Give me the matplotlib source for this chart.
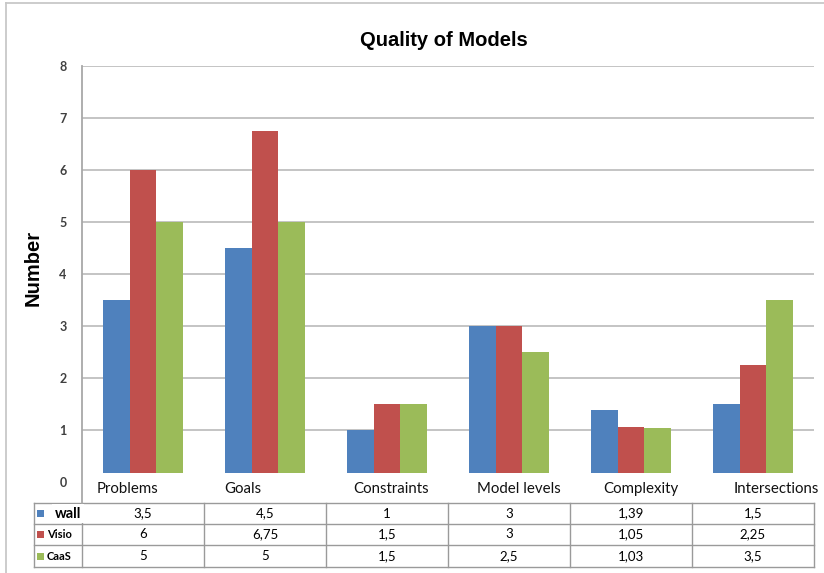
import matplotlib.pyplot as plt
import matplotlib.transforms as mtransforms
from matplotlib.patches import Rectangle
import numpy as np

categories = ['Problems', 'Goals', 'Constraints', 'Model levels', 'Complexity', 'Intersections']
series = ['wall', 'Visio', 'CaaS']
wall = [3.5, 4.5, 1, 3, 1.39, 1.5]
visio = [6, 6.75, 1.5, 3, 1.05, 2.25]
caas = [5, 5, 1.5, 2.5, 1.03, 3.5]
colors = ['#4F81BD', '#C0504D', '#9BBB59']

W, H = 824, 573
fig = plt.figure(figsize=(W / 100, H / 100), dpi=100)

# pixel helpers for placing the axes and the data table
def fx(px):
    return px / W

def fy(py):
    return 1 - py / H

ax_left, ax_right, ax_top, ax_bottom = 82, 814, 66, 482
ax = fig.add_axes([fx(ax_left), fy(ax_bottom), fx(ax_right - ax_left), (ax_bottom - ax_top) / H])

x = np.arange(len(categories))
w = 0.219
for i, (vals, c) in enumerate(zip([wall, visio, caas], colors)):
    ax.bar(x + (i - 1) * w, vals, w, color=c, zorder=2)

ax.set_xlim(-0.5, len(categories) - 0.5)
ax.set_ylim(0, 8)

# horizontal gridlines
for yv in range(1, 9):
    ax.axhline(yv, color='#C4C4C4', lw=1.4, zorder=1)

# the bar bottoms are hidden behind the category label band
ax.add_patch(Rectangle((-0.5, 0), len(categories), 0.17, facecolor='white',
                       edgecolor='none', zorder=3))

for s in ax.spines.values():
    s.set_visible(False)
ax.set_xticks([])
ax.set_yticks(range(9))
ax.set_yticklabels([str(v) for v in range(9)], fontsize=9, fontweight='bold',
                   color='#404040', family='Lato')
ax.tick_params(axis='y', length=0, pad=11)

trans = mtransforms.blended_transform_factory(ax.transData, ax.transAxes)
ppu = (ax_right - ax_left) / len(categories)  # pixels per category
ax_h = ax_bottom - ax_top

def ay(py):
    return (ax_bottom - py) / ax_h

def dx(px):
    return -0.5 + (px - ax_left) / ppu

# left axis line running down to the table
ax.plot([-0.5, -0.5], [1, ay(503)], transform=trans, color='#A8A8A8', lw=1.3,
        clip_on=False, zorder=4)

# category labels, nudged sideways as the original layout has them
label_shift_px = [-16, -22, 4, 10, 10, 23]
for xi, cat, sh in zip(x, categories, label_shift_px):
    ax.text(xi + sh / ppu, ay(489), cat, transform=trans, ha='center', va='center',
            fontsize=10.8, family='Lato', color='#111111', clip_on=False)

# data table below the chart
row_edges = [503, 524, 545, 567]
x0 = dx(34)
line_c = '#9A9A9A'
for py in row_edges:
    ax.plot([x0, len(categories) - 0.5], [ay(py), ay(py)], transform=trans,
            color=line_c, lw=1.0, clip_on=False)
for xv in [x0] + list(np.arange(len(categories) + 1) - 0.5):
    ax.plot([xv, xv], [ay(row_edges[0]), ay(row_edges[-1])], transform=trans,
            color=line_c, lw=1.0, clip_on=False)

for r, (name, vals, c) in enumerate(zip(series, [wall, visio, caas], colors)):
    yc = ay((row_edges[r] + row_edges[r + 1]) / 2)
    sq_h = 7 / ax_h
    ax.add_patch(Rectangle((dx(37), yc - sq_h / 2), 7 / ppu, sq_h, transform=trans,
                           facecolor=c, edgecolor='none', clip_on=False, zorder=5))
    if r == 0:
        ax.text(dx(55), yc, name, transform=trans, ha='left', va='center',
                fontsize=10.5, fontweight='bold', family='Lato', clip_on=False,
                zorder=6,
                bbox=dict(facecolor='white', edgecolor='none', pad=2))
    else:
        ax.text(dx(47), yc, name, transform=trans, ha='left', va='center',
                fontsize=8, fontweight='bold', family='Lato', clip_on=False)
    for xi, v in zip(x, vals):
        ax.text(xi, yc, f'{v:g}'.replace('.', ','), transform=trans, ha='center',
                va='center', fontsize=9.5, family='Lato', clip_on=False)

fig.text(fx(444), fy(40), 'Quality of Models', ha='center', va='center',
         fontsize=14.5, fontweight='bold', family='Liberation Sans')
fig.text(fx(33), fy(268), 'Number', ha='center', va='center', rotation=90,
         fontsize=14.5, fontweight='bold', family='Liberation Sans')

# outer chart frame
fig.add_artist(plt.Line2D([fx(6), fx(6)], [fy(3), 0], color='#C8C8C8', lw=1.3))
fig.add_artist(plt.Line2D([fx(6), 1], [fy(3), fy(3)], color='#C8C8C8', lw=1.3))

fig.savefig('out.png', dpi=100)
